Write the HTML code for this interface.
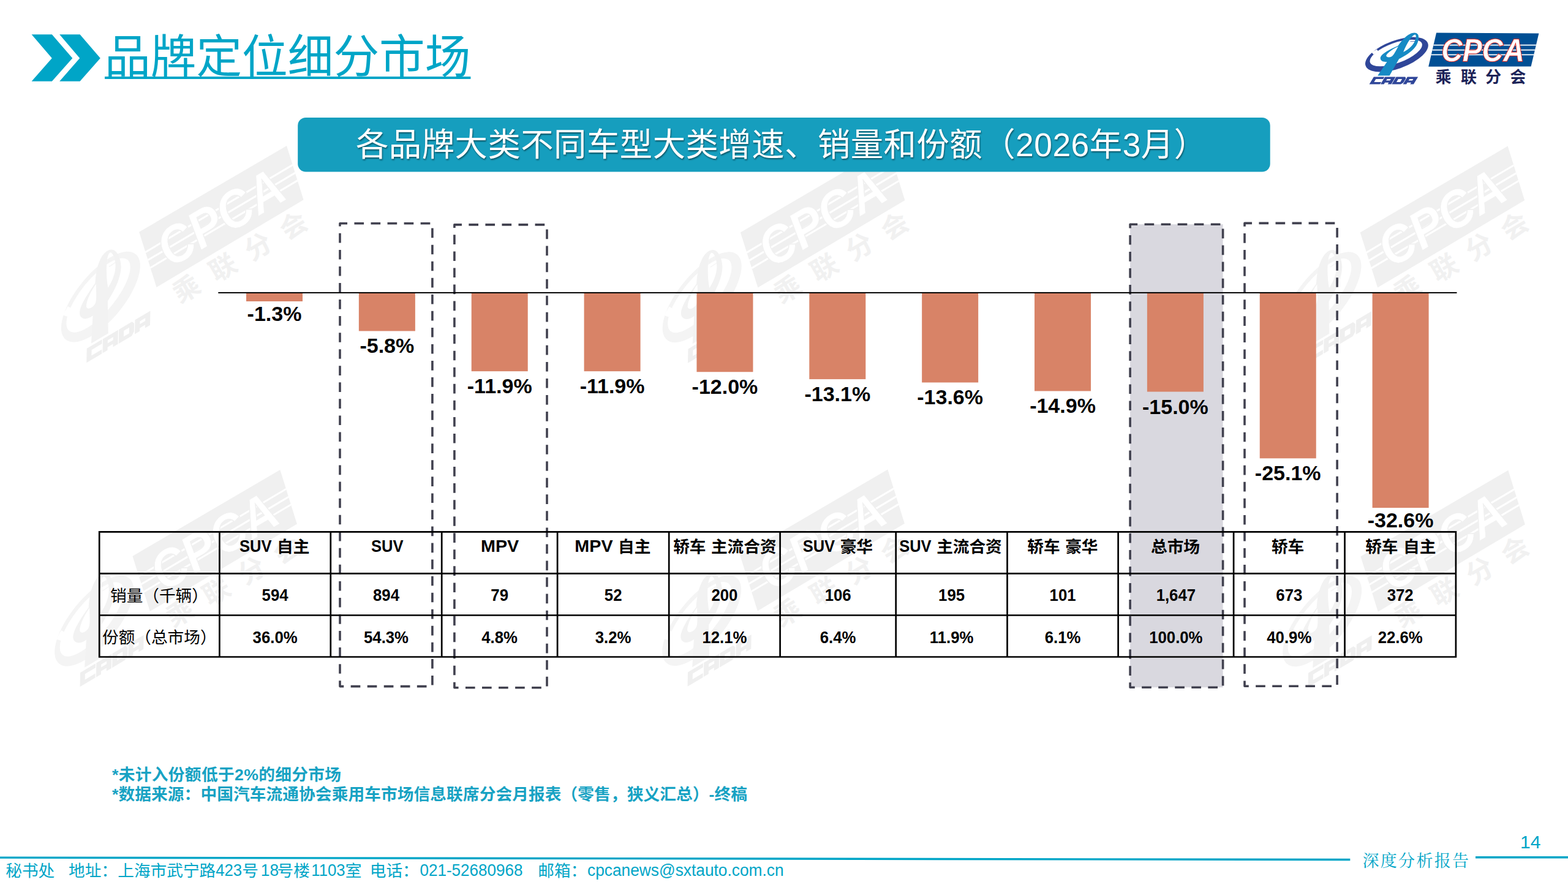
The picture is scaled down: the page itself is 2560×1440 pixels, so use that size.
<!DOCTYPE html>
<html lang="zh-CN">
<head>
<meta charset="utf-8">
<title>品牌定位细分市场</title>
<style>
html,body{margin:0;padding:0;background:#fff;}
body{width:2560px;height:1440px;overflow:hidden;font-family:"Liberation Sans","Noto Sans CJK SC",sans-serif;}
svg{display:block;}
text{font-family:"Liberation Sans","Noto Sans CJK SC",sans-serif;white-space:pre;}
.wm{--ring:#f4f4f4;--swoosh:#f2f2f2;--cada:#efefef;--para:#f0f0f0;--stripe:#fff;--cpca:#fff;--cpcas:#f0f0f0;--cn:#f1f1f1;--mark:#f2f2f2;--cut:#fff;}
.lg{--ring:#2F4699;--swoosh:#168AC4;--cada:#2F4699;--para:#004F94;--stripe:#fff;--cpca:#fff;--cpcas:#E5281E;--cn:#1C2358;--mark:#2F4699;--cut:#fff;}
</style>
</head>
<body>
<svg width="2560" height="1440" viewBox="0 0 2560 1440">
<defs>
<g id="logo">
<path d="M2229.66 107.47A54 22.7 -20 1 0 2331.14 70.53A54 22.7 -20 1 0 2229.66 107.47ZM2236.91 101.89A45 16.5 -20 1 0 2321.49 71.11A45 16.5 -20 1 0 2236.91 101.89Z" fill="var(--ring)" fill-rule="evenodd"/>
<path d="M2239.5 85.5L2248 80.5L2250 84L2242.5 89Z" fill="var(--cut)"/>
<g transform="translate(2220 45) scale(0.069444)">
<path d="M420 1130L640 805C560 815 490 790 485 725C485 650 600 560 900 430C960 340 1060 210 1180 150C1250 115 1330 110 1365 160C1400 210 1385 330 1330 420C1260 530 1120 640 925 735L700 1130ZM905 445C800 490 660 580 625 650C610 700 690 712 750 680C800 650 850 540 905 445ZM1025 575C1060 480 1120 360 1190 262C1230 205 1280 158 1305 165C1330 180 1325 250 1292 325C1255 410 1170 505 1025 575Z" fill="var(--swoosh)" fill-rule="evenodd"/>
<path d="M1195 262L1237 238L1250 262L1215 276Z" fill="var(--mark)"/>
<path d="M1188 322L1300 316L1300 330L1188 336Z" fill="var(--mark)" opacity=".7"/>
</g>
<g transform="translate(2242.9 125.6) skewX(-31.7)" fill="var(--cada)" fill-rule="evenodd">
<path transform="translate(0 0)" d="M0 0H17.4V3.5H5.6V8.3H17.4V11.8H0Z"/>
<path transform="translate(18.3 0)" d="M0 0H17.4V11.8H11.8V9.2H5.6V11.8H0ZM5.6 3.5H11.8V6H5.6Z"/>
<path transform="translate(36.6 0)" d="M0 0H14.8L17.4 2.5V9.3L14.8 11.8H0ZM5.6 3.5H11.8V8.3H5.6Z"/>
<path transform="translate(54.9 0)" d="M0 0H17.4V11.8H11.8V9.2H5.6V11.8H0ZM5.6 3.5H11.8V6H5.6Z"/>
</g>
<path d="M2345.1 53.6L2512.4 54.6L2499.6 108.6L2332.2 108.8Z" fill="var(--para)"/>
<path d="M2340.61 72.8L2508.09 72.8L2507.66 74.6L2340.19 74.6Z" fill="var(--stripe)"/>
<path d="M2338.77 80.7L2506.21 80.7L2505.79 82.5L2338.35 82.5Z" fill="var(--stripe)"/>
<path d="M2336.97 88.4L2504.39 88.4L2503.96 90.2L2336.55 90.2Z" fill="var(--stripe)"/>
<text x="2353.2" y="99.8" font-size="51.6" font-weight="700" font-style="italic" textLength="135.5" lengthAdjust="spacingAndGlyphs" fill="var(--cpcas)" stroke="var(--cpcas)" stroke-width="1.5">CPCA</text>
<text x="2353.2" y="99.8" font-size="51.6" font-weight="700" font-style="italic" textLength="135.5" lengthAdjust="spacingAndGlyphs" fill="var(--cpca)" stroke="var(--cpcas)" stroke-width=".5">CPCA</text>
<text x="2343.6 2385.1 2425.1 2465.2" y="134.5" font-size="26" font-weight="700" fill="var(--cn)">乘联分会</text>
</g>
</defs>
<rect width="2560" height="1440" fill="#fff"/>
<!-- watermarks -->
<use href="#logo" class="wm" transform="translate(299.5 417.55) rotate(-30.65) scale(1.668) translate(-2370.6 -95.7)"/>
<use href="#logo" class="wm" transform="translate(1281.3 418.15) rotate(-30.65) scale(1.668) translate(-2370.6 -95.7)"/>
<use href="#logo" class="wm" transform="translate(2293.1 418.15) rotate(-30.65) scale(1.668) translate(-2370.6 -95.7)"/>
<use href="#logo" class="wm" transform="translate(288.8 946.65) rotate(-30.65) scale(1.668) translate(-2370.6 -95.7)"/>
<use href="#logo" class="wm" transform="translate(1280.8 946.05) rotate(-30.65) scale(1.668) translate(-2370.6 -95.7)"/>
<use href="#logo" class="wm" transform="translate(2293.8 947.35) rotate(-30.65) scale(1.668) translate(-2370.6 -95.7)"/>
<!-- header -->
<path d="M51.6 56.3H84.8L118.3 95L84.8 132.8H51.6L84.8 95Z" fill="#00A5C7"/>
<path d="M97.2 56.3H130.5L163.8 95L130.5 132.8H97.2L130.2 95Z" fill="#00A5C7"/>
<text x="171.1" y="119" font-size="74.67" fill="#00A5C7">品牌定位细分市场</text>
<rect x="171" y="125" width="597.4" height="4" fill="#00A5C7"/>
<use href="#logo" class="lg"/>
<rect x="486.2" y="192" width="1587.5" height="88.6" rx="13" fill="#169EBE"/>
<text x="581" y="255.1" font-size="53.33" fill="#fff" textLength="1389" lengthAdjust="spacing" style="filter:drop-shadow(1.6px 2px 1.2px rgba(0,0,0,.45))">各品牌大类不同车型大类增速、销量和份额（2026年3月）</text>
<!-- highlight boxes -->
<path d="M555 364.8H705.9V1120.6H555Z" fill="none" stroke="#41414F" stroke-width="3.6" stroke-dasharray="15.65 11.4" stroke-dashoffset="3.6" stroke-linejoin="round"/>
<path d="M741.9 366.9H893V1122.7H741.9Z" fill="none" stroke="#41414F" stroke-width="3.6" stroke-dasharray="15.65 11.4" stroke-dashoffset="3.6" stroke-linejoin="round"/>
<path d="M1845.1 366.3H1996.6V1122.3H1845.1Z" fill="#D9D8DF" stroke="#41414F" stroke-width="3.6" stroke-dasharray="15.65 11.4" stroke-dashoffset="3.6" stroke-linejoin="round"/>
<path d="M2032 364.4H2183.1V1120.3H2032Z" fill="none" stroke="#41414F" stroke-width="3.6" stroke-dasharray="15.65 11.4" stroke-dashoffset="3.6" stroke-linejoin="round"/>
<!-- chart -->
<rect x="402" y="478" width="92" height="14" fill="#D88367"/>
<rect x="585.86" y="478" width="92" height="62.47" fill="#D88367"/>
<rect x="769.72" y="478" width="92" height="128.16" fill="#D88367"/>
<rect x="953.58" y="478" width="92" height="128.16" fill="#D88367"/>
<rect x="1137.44" y="478" width="92" height="129.24" fill="#D88367"/>
<rect x="1321.3" y="478" width="92" height="141.09" fill="#D88367"/>
<rect x="1505.16" y="478" width="92" height="146.47" fill="#D88367"/>
<rect x="1689.02" y="478" width="92" height="160.47" fill="#D88367"/>
<rect x="1872.88" y="478" width="92" height="161.55" fill="#D88367"/>
<rect x="2056.74" y="478" width="92" height="270.33" fill="#D88367"/>
<rect x="2240.6" y="478" width="92" height="351.1" fill="#D88367"/>
<rect x="356.3" y="476.9" width="2022.2" height="2" fill="#000"/>
<text x="448" y="523.8" font-size="34" font-weight="700" text-anchor="middle" fill="#000">-1.3%</text>
<text x="631.86" y="576.47" font-size="34" font-weight="700" text-anchor="middle" fill="#000">-5.8%</text>
<text x="815.72" y="642.16" font-size="34" font-weight="700" text-anchor="middle" fill="#000">-11.9%</text>
<text x="999.58" y="642.16" font-size="34" font-weight="700" text-anchor="middle" fill="#000">-11.9%</text>
<text x="1183.44" y="643.24" font-size="34" font-weight="700" text-anchor="middle" fill="#000">-12.0%</text>
<text x="1367.3" y="655.09" font-size="34" font-weight="700" text-anchor="middle" fill="#000">-13.1%</text>
<text x="1551.16" y="660.47" font-size="34" font-weight="700" text-anchor="middle" fill="#000">-13.6%</text>
<text x="1735.02" y="674.47" font-size="34" font-weight="700" text-anchor="middle" fill="#000">-14.9%</text>
<text x="1918.88" y="675.55" font-size="34" font-weight="700" text-anchor="middle" fill="#000">-15.0%</text>
<text x="2102.74" y="784.33" font-size="34" font-weight="700" text-anchor="middle" fill="#000">-25.1%</text>
<text x="2286.6" y="861.2" font-size="34" font-weight="700" text-anchor="middle" fill="#000">-32.6%</text>
<!-- table -->
<path d="M160.85 868.4H2378.25M160.85 936.4H2378.25M160.85 1004.5H2378.25M160.85 1072.5H2378.25M162.2 868.4V1072.5M358.4 868.4V1072.5M539.8 868.4V1072.5M721.2 868.4V1072.5M910.1 868.4V1072.5M1092.2 868.4V1072.5M1273.6 868.4V1072.5M1462.7 868.4V1072.5M1644.5 868.4V1072.5M1825.6 868.4V1072.5M2014.1 868.4V1072.5M2195.5 868.4V1072.5M2376.9 868.4V1072.5" stroke="#000" stroke-width="2.7" fill="none"/>
<text x="391.03" y="901" font-size="27.2" font-weight="700" textLength="52.5" lengthAdjust="spacingAndGlyphs" fill="#000">SUV</text>
<text x="452.03" y="901.5" font-size="26.67" font-weight="700" fill="#000">自主</text>
<text x="605.95" y="901" font-size="27.2" font-weight="700" textLength="52.5" lengthAdjust="spacingAndGlyphs" fill="#000">SUV</text>
<text x="785" y="901" font-size="27.2" font-weight="700" textLength="62.2" lengthAdjust="spacingAndGlyphs" fill="#000">MPV</text>
<text x="938.38" y="901" font-size="27.2" font-weight="700" textLength="62.2" lengthAdjust="spacingAndGlyphs" fill="#000">MPV</text>
<text x="1009.08" y="901.5" font-size="26.67" font-weight="700" fill="#000">自主</text>
<text x="1099.14" y="901.5" font-size="26.67" font-weight="700" fill="#000">轿车</text>
<text x="1160.98" y="901.5" font-size="26.67" font-weight="700" fill="#000">主流合资</text>
<text x="1310.63" y="901" font-size="27.2" font-weight="700" textLength="52.5" lengthAdjust="spacingAndGlyphs" fill="#000">SUV</text>
<text x="1371.63" y="901.5" font-size="26.67" font-weight="700" fill="#000">豪华</text>
<text x="1468.16" y="901" font-size="27.2" font-weight="700" textLength="52.5" lengthAdjust="spacingAndGlyphs" fill="#000">SUV</text>
<text x="1529.16" y="901.5" font-size="26.67" font-weight="700" fill="#000">主流合资</text>
<text x="1677.31" y="901.5" font-size="26.67" font-weight="700" fill="#000">轿车</text>
<text x="1739.15" y="901.5" font-size="26.67" font-weight="700" fill="#000">豪华</text>
<text x="1878.99" y="901.5" font-size="26.67" font-weight="700" fill="#000">总市场</text>
<text x="2075.93" y="901.5" font-size="26.67" font-weight="700" fill="#000">轿车</text>
<text x="2229.21" y="901.5" font-size="26.67" font-weight="700" fill="#000">轿车</text>
<text x="2291.05" y="901.5" font-size="26.67" font-weight="700" fill="#000">自主</text>
<text x="180" y="981.6" font-size="26.67" fill="#000">销量（千辆）</text>
<text x="167" y="1050" font-size="26.67" fill="#000">份额（总市场）</text>
<text transform="translate(449.1 980.6) scale(0.94 1)" font-size="27.4" font-weight="700" text-anchor="middle" fill="#000">594</text>
<text transform="translate(630.5 980.6) scale(0.94 1)" font-size="27.4" font-weight="700" text-anchor="middle" fill="#000">894</text>
<text transform="translate(815.65 980.6) scale(0.94 1)" font-size="27.4" font-weight="700" text-anchor="middle" fill="#000">79</text>
<text transform="translate(1001.15 980.6) scale(0.94 1)" font-size="27.4" font-weight="700" text-anchor="middle" fill="#000">52</text>
<text transform="translate(1182.9 980.6) scale(0.94 1)" font-size="27.4" font-weight="700" text-anchor="middle" fill="#000">200</text>
<text transform="translate(1368.15 980.6) scale(0.94 1)" font-size="27.4" font-weight="700" text-anchor="middle" fill="#000">106</text>
<text transform="translate(1553.6 980.6) scale(0.94 1)" font-size="27.4" font-weight="700" text-anchor="middle" fill="#000">195</text>
<text transform="translate(1735.05 980.6) scale(0.94 1)" font-size="27.4" font-weight="700" text-anchor="middle" fill="#000">101</text>
<text transform="translate(1919.85 980.6) scale(0.94 1)" font-size="27.4" font-weight="700" text-anchor="middle" fill="#000">1,647</text>
<text transform="translate(2104.8 980.6) scale(0.94 1)" font-size="27.4" font-weight="700" text-anchor="middle" fill="#000">673</text>
<text transform="translate(2286.2 980.6) scale(0.94 1)" font-size="27.4" font-weight="700" text-anchor="middle" fill="#000">372</text>
<text transform="translate(449.1 1050) scale(0.94 1)" font-size="27.4" font-weight="700" text-anchor="middle" fill="#000">36.0%</text>
<text transform="translate(630.5 1050) scale(0.94 1)" font-size="27.4" font-weight="700" text-anchor="middle" fill="#000">54.3%</text>
<text transform="translate(815.65 1050) scale(0.94 1)" font-size="27.4" font-weight="700" text-anchor="middle" fill="#000">4.8%</text>
<text transform="translate(1001.15 1050) scale(0.94 1)" font-size="27.4" font-weight="700" text-anchor="middle" fill="#000">3.2%</text>
<text transform="translate(1182.9 1050) scale(0.94 1)" font-size="27.4" font-weight="700" text-anchor="middle" fill="#000">12.1%</text>
<text transform="translate(1368.15 1050) scale(0.94 1)" font-size="27.4" font-weight="700" text-anchor="middle" fill="#000">6.4%</text>
<text transform="translate(1553.6 1050) scale(0.94 1)" font-size="27.4" font-weight="700" text-anchor="middle" fill="#000">11.9%</text>
<text transform="translate(1735.05 1050) scale(0.94 1)" font-size="27.4" font-weight="700" text-anchor="middle" fill="#000">6.1%</text>
<text transform="translate(1919.85 1050) scale(0.94 1)" font-size="27.4" font-weight="700" text-anchor="middle" fill="#000">100.0%</text>
<text transform="translate(2104.8 1050) scale(0.94 1)" font-size="27.4" font-weight="700" text-anchor="middle" fill="#000">40.9%</text>
<text transform="translate(2286.2 1050) scale(0.94 1)" font-size="27.4" font-weight="700" text-anchor="middle" fill="#000">22.6%</text>
<!-- notes + footer -->
<text x="183" y="1273.5" font-size="26.67" font-weight="700" fill="#17A2C3" textLength="374" lengthAdjust="spacing">*未计入份额低于2%的细分市场</text>
<text x="183" y="1305.8" font-size="26.67" font-weight="700" fill="#17A2C3" textLength="1037" lengthAdjust="spacing">*数据来源：中国汽车流通协会乘用车市场信息联席分会月报表（零售，狭义汇总）-终稿</text>
<path d="M0 1400.1L2204.3 1403.5" stroke="#00A5C7" stroke-width="3.4" fill="none"/>
<path d="M2409 1399.8H2560" stroke="#00A5C7" stroke-width="3.6" fill="none"/>
<text x="9.3" y="1430.9" font-size="26.67" fill="#00A5C7">秘书处</text>
<text x="112" y="1430.9" font-size="26.67" fill="#00A5C7">地址：</text>
<text x="192.3" y="1430.9" font-size="26.67" fill="#00A5C7">上海市武宁路</text>
<text transform="translate(352.2 1430.3) scale(0.93 1)" font-size="27.7" fill="#00A5C7">423</text>
<text x="395.2" y="1430.9" font-size="26.67" fill="#00A5C7">号</text>
<text transform="translate(425.8 1430.3) scale(0.95 1)" font-size="27.7" fill="#00A5C7">18</text>
<text x="452.6" y="1430.9" font-size="26.67" fill="#00A5C7">号楼</text>
<text transform="translate(508.3 1430.3) scale(0.93 1)" font-size="27.7" fill="#00A5C7">1103</text>
<text x="563.8" y="1430.9" font-size="26.67" fill="#00A5C7">室</text>
<text x="603.8" y="1430.9" font-size="26.67" fill="#00A5C7">电话：</text>
<text transform="translate(685.5 1430.3) scale(0.94 1)" font-size="27.7" fill="#00A5C7">021-52680968</text>
<text x="878.3" y="1430.9" font-size="26.67" fill="#00A5C7">邮箱：</text>
<text transform="translate(959 1430.3) scale(0.95 1)" font-size="27.7" fill="#00A5C7">cpcanews@sxtauto.com.cn</text>
<text x="2224.5" y="1415" font-size="27" letter-spacing="2.3" fill="#00A5C7" style="font-family:'Liberation Serif','Noto Serif CJK SC',serif">深度分析报告</text>
<text x="2482" y="1385" font-size="30" fill="#00A5C7">14</text>
</svg>
</body>
</html>
